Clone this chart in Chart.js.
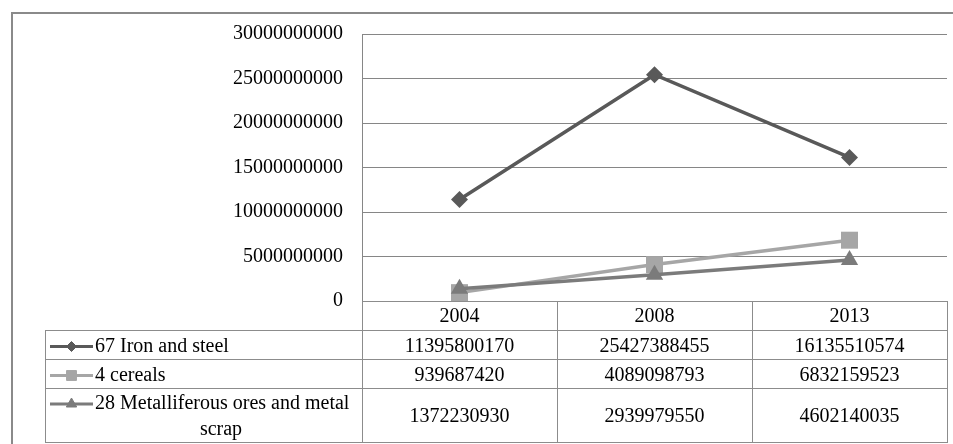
<!DOCTYPE html>
<html>
<head>
<meta charset="utf-8">
<style>
  html, body { margin: 0; padding: 0; background: #ffffff; overflow: hidden; }
  canvas { display: block; }
</style>
<script src="https://cdn.jsdelivr.net/npm/chart.js@4.4.0/dist/chart.umd.min.js"></script>
</head>
<body>
<canvas id="c" width="953" height="444"></canvas>
<script>
// Categories and series (export values per commodity group)
const years = ['2004', '2008', '2013'];
const seriesNames = ['67 Iron and steel', '4 cereals', '28 Metalliferous ores and metal scrap'];
const ironSteel = [11395800170, 25427388455, 16135510574];
const cereals = [939687420, 4089098793, 6832159523];
const metalOres = [1372230930, 2939979550, 4602140035];
const yTickValues = [0, 5000000000, 10000000000, 15000000000, 20000000000, 25000000000, 30000000000];

const FONT = '"Liberation Serif", "Times New Roman", serif';
const GRID = '#868686';
const TABLE_LINE = '#8c8c8c';

const seriesStyle = [
  { color: '#595959', point: 'rectRot', radius: 8.5, keyRadius: 5 },
  { color: '#a6a6a6', point: 'rect', radius: 12, keyRadius: 7 },
  { color: '#7b7b7b', point: 'triangle', radius: 10, keyRadius: 6 }
];
const seriesValues = [ironSteel, cereals, metalOres];

function drawMarker(ctx, style, radius, x, y) {
  ctx.save();
  ctx.fillStyle = style.color;
  ctx.strokeStyle = style.color;
  ctx.lineWidth = 1;
  if (Chart.helpers && Chart.helpers.drawPoint) {
    Chart.helpers.drawPoint(ctx, { pointStyle: style.point, radius: radius, borderWidth: 1, rotation: 0 }, x, y);
  }
  ctx.restore();
}

function wrapText(ctx, text, maxWidth) {
  const words = text.split(' ');
  const lines = [];
  let line = '';
  for (const w of words) {
    const test = line ? line + ' ' + w : w;
    if (ctx.measureText(test).width > maxWidth && line) {
      lines.push(line);
      line = w;
    } else {
      line = test;
    }
  }
  if (line) lines.push(line);
  return lines;
}

// Outer frame and the data table under the plot
const dataTablePlugin = {
  id: 'dataTable',
  beforeDraw(chart) {
    const ctx = chart.ctx;
    ctx.save();
    ctx.strokeStyle = '#8a8a8a';
    ctx.lineWidth = 2;
    ctx.strokeRect(12, 13, 1000, 1000);
    ctx.restore();
  },
  afterDraw(chart) {
    const { ctx, chartArea: a, scales: { x } } = chart;
    const colW = (a.right - a.left) / years.length;
    const rowH = [30, 29, 29, 54];
    const tableLeft = 45;
    const keyLeft = 50, keyRight = 93, textLeft = 95, textMax = 264;
    const ys = [a.bottom];
    rowH.forEach(h => ys.push(ys[ys.length - 1] + h));

    ctx.save();
    ctx.strokeStyle = TABLE_LINE;
    ctx.lineWidth = 1;
    ctx.beginPath();
    // horizontal rules
    ctx.moveTo(a.left, Math.round(ys[0]) + 0.5);
    ctx.lineTo(a.right, Math.round(ys[0]) + 0.5);
    for (let r = 1; r < ys.length; r++) {
      const yy = Math.round(ys[r]) - 0.5;
      ctx.moveTo(tableLeft, yy);
      ctx.lineTo(a.right, yy);
    }
    // vertical rules
    for (let i = 0; i <= years.length; i++) {
      const xx = Math.round(a.left + i * colW) + 0.5;
      ctx.moveTo(xx, ys[0]);
      ctx.lineTo(xx, ys[ys.length - 1]);
    }
    ctx.moveTo(tableLeft + 0.5, ys[1]);
    ctx.lineTo(tableLeft + 0.5, ys[ys.length - 1]);
    ctx.stroke();

    ctx.fillStyle = '#000000';
    ctx.font = '20px ' + FONT;
    ctx.textBaseline = 'middle';
    ctx.textAlign = 'center';

    // header row: years
    years.forEach((yr, i) => {
      ctx.fillText(yr, x.getPixelForValue(i), (ys[0] + ys[1]) / 2 + 1);
    });

    // series rows
    seriesNames.forEach((name, s) => {
      const top = ys[s + 1], bottom = ys[s + 2];
      const mid = (top + bottom) / 2;
      ctx.textAlign = 'left';
      const lines = wrapText(ctx, name, textMax);
      const lh = 26;
      const firstY = mid - (lines.length - 1) * lh / 2 + 1;
      // legend key
      const st = seriesStyle[s];
      ctx.save();
      ctx.strokeStyle = st.color;
      ctx.lineWidth = 3;
      ctx.beginPath();
      ctx.moveTo(keyLeft, firstY);
      ctx.lineTo(keyRight, firstY);
      ctx.stroke();
      ctx.restore();
      drawMarker(ctx, st, st.keyRadius, (keyLeft + keyRight) / 2, firstY);
      ctx.fillStyle = '#000000';
      lines.forEach((ln, k) => {
        if (k === 0) {
          ctx.textAlign = 'left';
          ctx.fillText(ln, textLeft, firstY);
        } else {
          ctx.textAlign = 'center';
          ctx.fillText(ln, textLeft + textMax / 2 - 6, firstY + k * lh);
        }
      });
      // values
      ctx.textAlign = 'center';
      seriesValues[s].forEach((v, i) => {
        ctx.fillText(String(v), x.getPixelForValue(i), mid + 1);
      });
    });
    ctx.restore();
  }
};

const datasets = seriesNames.map((name, s) => ({
  label: name,
  data: seriesValues[s],
  borderColor: seriesStyle[s].color,
  backgroundColor: seriesStyle[s].color,
  borderWidth: 3.5,
  pointStyle: seriesStyle[s].point,
  pointRadius: seriesStyle[s].radius,
  pointBorderWidth: 0,
  pointBackgroundColor: seriesStyle[s].color,
  tension: 0,
  fill: false,
  order: seriesNames.length - 1 - s
}));

new Chart(document.getElementById('c'), {
  type: 'line',
  data: { labels: years, datasets: datasets },
  options: {
    responsive: false,
    animation: false,
    devicePixelRatio: 1,
    layout: { autoPadding: false, padding: { left: 0, right: 6, top: 34, bottom: 143 } },
    plugins: { legend: { display: false }, tooltip: { enabled: false } },
    scales: {
      x: { display: false, offset: true },
      y: {
        min: 0,
        max: 30000000000,
        afterBuildTicks(scale) { scale.ticks = yTickValues.map(v => ({ value: v })); },
        afterFit(scale) { scale.width = 362; },
        ticks: {
          padding: 19,
          color: '#000000',
          font: { family: FONT, size: 20 },
          callback: v => String(v)
        },
        grid: { color: GRID, lineWidth: 1, drawTicks: false, tickLength: 0 },
        border: { display: true, color: GRID, width: 1 }
      }
    }
  },
  plugins: [dataTablePlugin]
});
</script>
</body>
</html>
